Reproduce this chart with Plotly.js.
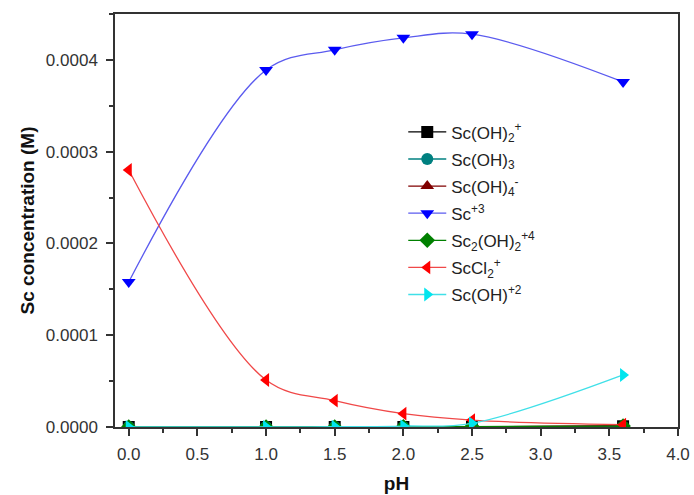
<!DOCTYPE html>
<html>
<head>
<meta charset="utf-8">
<script src="https://cdn.plot.ly/plotly-3.0.1.min.js"></script>
<style>html,body{margin:0;padding:0;background:#fff;}#chart{width:694px;height:495px;}</style>
</head>
<body>
<div id="chart"></div>
<script>
const pH = [0, 1.0, 1.5, 2.0, 2.5, 3.6];
const names = [
  'Sc(OH)<sub>2</sub><sup>+</sup>',
  'Sc(OH)<sub>3</sub>',
  'Sc(OH)<sub>4</sub><sup>-</sup>',
  'Sc<sup>+3</sup>',
  'Sc<sub>2</sub>(OH)<sub>2</sub><sup>+4</sup>',
  'ScCl<sub>2</sub><sup>+</sup>',
  'Sc(OH)<sup>+2</sup>'
];
const scOH2 = [0, 0, 0, 0, 0.0000002, 0.0000008];
const scOH3 = [0, 0, 0, 0, 0, 0.0000003];
const scOH4 = [0, 0, 0, 0, 0, 0.0000015];
const sc3 = [0.000158, 0.000389, 0.000411, 0.000424, 0.000428, 0.000376];
const sc2OH2 = [0, 0, 0, 0.0000002, 0.0000005, 0.000001];
const scCl2 = [0.000280, 0.0000512, 0.0000287, 0.0000145, 0.0000075, 0.0000025];
const scOH = [0, 0, 0.0000003, 0.000001, 0.000004, 0.0000567];

const series = [scOH2, scOH3, scOH4, sc3, sc2OH2, scCl2, scOH];
const colors = ['#000000', '#008080', '#800000', '#0000ff', '#008000', '#ff0000', '#00e5ee'];
const lineColors = ['#000000', '#008080', '#800000', '#5b5bef', '#008000', '#f04848', '#40e0e8'];
const symbols = ['square', 'circle', 'triangle-up', 'triangle-down', 'diamond', 'triangle-left', 'triangle-right'];

const traces = series.map((ys, i) => ({
  x: pH, y: ys, name: names[i], type: 'scatter', mode: 'lines+markers',
  legendgroup: 'g' + i,
  line: {shape: 'spline', color: lineColors[i], width: 1.3},
  marker: {symbol: symbols[i], size: 12, color: colors[i]}
}));

const layout = {
  width: 694, height: 495,
  margin: {l: 115, r: 16, t: 14, b: 68},
  paper_bgcolor: '#ffffff', plot_bgcolor: '#ffffff',
  font: {family: 'Liberation Sans, Arial, sans-serif', color: '#333333', size: 15},
  showlegend: true,
  legend: {x: 0.512, y: 0.757, xanchor: 'left', yanchor: 'top', bgcolor: 'rgba(0,0,0,0)',
           font: {size: 17, color: '#222222'}, tracegroupgap: 2, itemwidth: 38},
  xaxis: {
    range: [-0.1, 4.0], dtick: 0.5, tick0: 0, tickformat: '.1f',
    showgrid: false, zeroline: false, showline: true, linecolor: '#333333', linewidth: 1.5,
    mirror: true, ticks: 'outside', ticklen: 7, tickwidth: 1.5, tickcolor: '#333333',
    minor: {dtick: 0.25, tick0: 0, ticks: 'outside', ticklen: 4, tickwidth: 1.5, tickcolor: '#333333'},
    tickfont: {size: 17, color: '#333333'}, ticklabelstandoff: 4,
    title: {text: '<b>pH</b>', font: {size: 19, color: '#111111'}, standoff: 14}
  },
  yaxis: {
    range: [0, 0.00045], dtick: 0.0001, tick0: 0, tickformat: '.4f',
    showgrid: false, zeroline: false, showline: true, linecolor: '#333333', linewidth: 1.5,
    mirror: true, ticks: 'outside', ticklen: 7, tickwidth: 1.5, tickcolor: '#333333',
    minor: {dtick: 0.00005, tick0: 0, ticks: 'outside', ticklen: 4, tickwidth: 1.5, tickcolor: '#333333'},
    tickfont: {size: 17, color: '#333333'}, ticklabelstandoff: 5,
    title: {text: '<b>Sc concentration (M)</b>', font: {size: 19, color: '#111111'}, standoff: 6}
  }
};

Plotly.newPlot('chart', traces, layout, {displayModeBar: false, responsive: false});
</script>
</body>
</html>
